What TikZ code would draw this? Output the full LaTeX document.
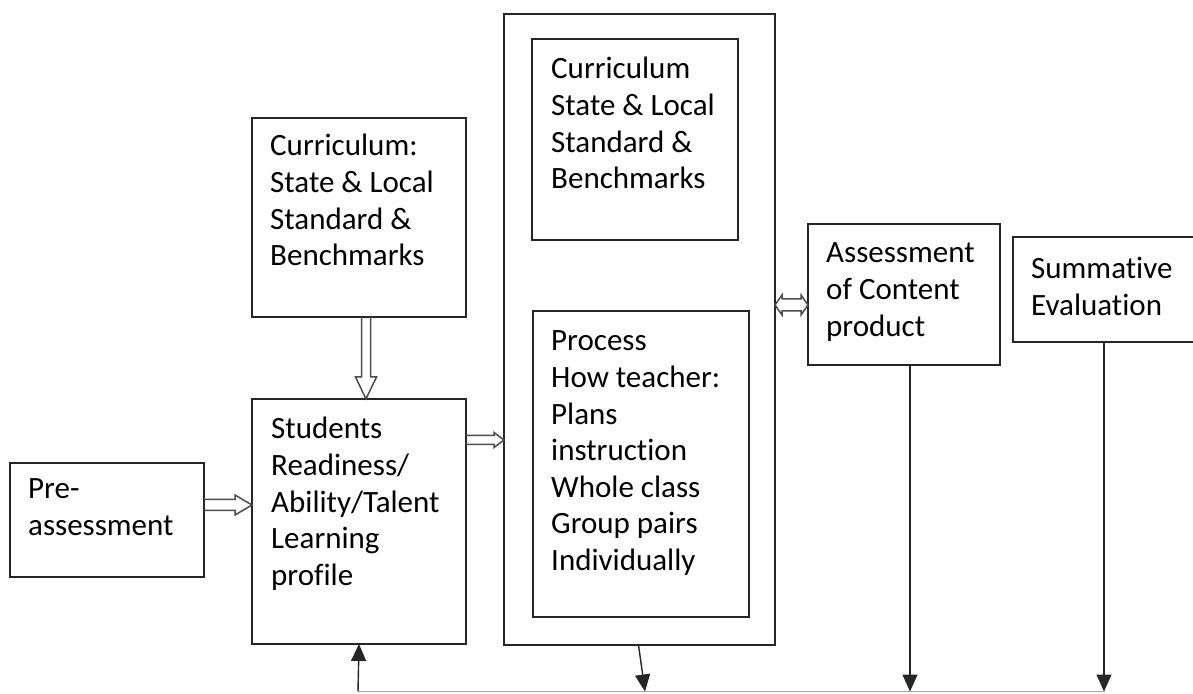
\documentclass[tikz,border=0pt]{standalone}
\usepackage{fontspec}
\setmainfont{Carlito}[Ligatures=NoCommon]
\usetikzlibrary{calc,arrows.meta}
\newcommand\boxtext[1]{\parbox[t]{240pt}{\fontsize{31}{36.6}\selectfont\raggedright #1}}
\newcommand\hollowdown[2]{\draw[hollow] let \p1=(#1), \p2=(#2) in
 (\x1-4.5pt,\y1) -- (\x1-4.5pt,\y2+22pt) -- (\x1-10.5pt,\y2+22pt) -- (\x1,\y2) -- (\x1+10.5pt,\y2+22pt) -- (\x1+4.5pt,\y2+22pt) -- (\x1+4.5pt,\y1);}
\newcommand\hollowright[5]{\draw[hollow] let \p1=(#1), \p2=(#2) in
 (\x1,\y1+#3) -- (\x2-#5,\y1+#3) -- (\x2-#5,\y1+#4) -- (\x2,\y1) -- (\x2-#5,\y1-#4) -- (\x2-#5,\y1-#3) -- (\x1,\y1-#3);}
\newcommand\hollowboth[2]{\draw[hollow] let \p1=(#1), \p2=(#2) in
 (\x1,\y1) -- (\x1+7pt,\y1+10pt) -- (\x1+7pt,\y1+6pt) -- (\x2-7pt,\y1+6pt) -- (\x2-7pt,\y1+10pt) -- (\x2,\y1) -- (\x2-7pt,\y1-10pt) -- (\x2-7pt,\y1-6pt) -- (\x1+7pt,\y1-6pt) -- (\x1+7pt,\y1-10pt) -- cycle;}
\begin{document}
\begin{tikzpicture}[x=1pt,y=1pt,
 box/.style={draw=black!85, line width=1.6pt, anchor=north west, inner sep=0pt, outer sep=0pt},
 txt/.style={anchor=base west, inner sep=0pt, text=black},
 hollow/.style={draw=black!70, line width=1.5pt, line join=miter},
 conn/.style={draw=black!85, line width=1.4pt, -{Triangle[length=17pt,width=15pt]}},
 baseline/.style={draw=black!35, line width=1pt}]
\clip (0,0) rectangle (1193,693);
\fill[white] (0,0) rectangle (1193,693);
% boxes
\node[box, minimum width=194pt, minimum height=114pt] (pre) at (10,230) {};
\node[box, minimum width=214pt, minimum height=199pt] (cur) at (252,575) {};
\node[box, minimum width=214pt, minimum height=245pt] (stu) at (252,294) {};
\node[box, minimum width=271pt, minimum height=631pt] (outer) at (504,679) {};
\node[box, minimum width=206pt, minimum height=201pt] (incur) at (532,654) {};
\node[box, minimum width=216pt, minimum height=306pt] (proc) at (533,382) {};
\node[box, minimum width=192pt, minimum height=141pt] (asm) at (808,469) {};
\node[box, minimum width=190pt, minimum height=105pt] (sum) at (1013,456) {};
% texts
\node[txt] (tpre) at ($(pre.north west)+(18,-36)$) {\boxtext{Pre-\\assessment}};
\node[txt] (tcur) at ($(cur.north west)+(18,-38)$) {\boxtext{Curriculum:\\State \& Local\\Standard \&\\Benchmarks}};
\node[txt] (tstu) at ($(stu.north west)+(19,-40)$) {\boxtext{Students\\Readiness/\\Ability/Talent\\Learning\\profile}};
\node[txt] (tincur) at ($(incur.north west)+(19,-40)$) {\boxtext{Curriculum\\State \& Local\\Standard \&\\Benchmarks}};
\node[txt] (tproc) at ($(proc.north west)+(18,-40)$) {\boxtext{Process\\How teacher:\\Plans\\instruction\\Whole class\\Group pairs\\Individually}};
\node[txt] (tasm) at ($(asm.north west)+(18,-39)$) {\boxtext{Assessment\\of Content\\product}};
\node[txt] (tsum) at ($(sum.north west)+(18,-42)$) {\boxtext{Summative\\Evaluation}};
% hollow arrows
\hollowdown{$(cur.south)+(7,0)$}{stu.north}
\hollowright{$(pre.north east)+(0,-42)$}{stu.west}{5.5pt}{10pt}{17pt}
\hollowright{$(stu.north east)+(0,-41)$}{outer.west}{4.5pt}{7.5pt}{10pt}
\hollowboth{$(outer.north east)+(0,-291)$}{asm.west}
% bottom connectors
\coordinate (bl) at (358,1.5);
\coordinate (br) at (1105,1.5);
\coordinate (ob) at (645,1.5);
\coordinate (as) at ($(asm.south)+(6,0)$);
\coordinate (ss) at ($(sum.south)+(-4,0)$);
\draw[baseline] (bl) -- (br);
\draw[conn] (bl) -- (stu.south);
\draw[conn] ($(outer.south)+(-1,0)$) -- (ob);
\draw[conn] (as) -- (as |- bl);
\draw[conn] (ss) -- (ss |- bl);
\end{tikzpicture}
\end{document}
